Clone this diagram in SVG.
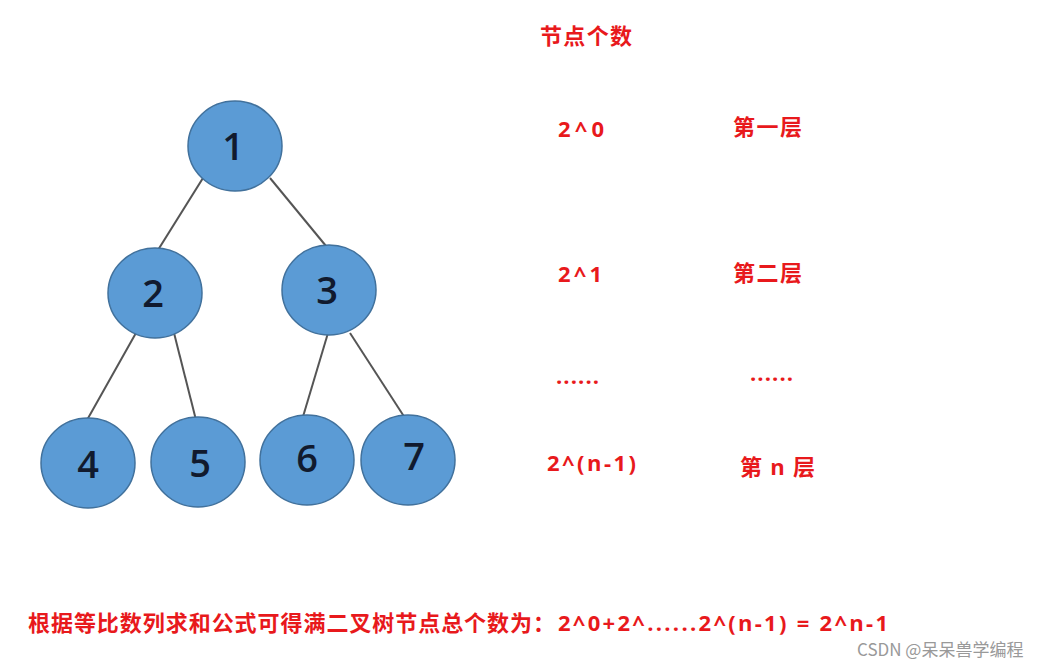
<svg xmlns="http://www.w3.org/2000/svg" width="1062" height="669" viewBox="0 0 1062 669">
<style>
.n{fill:#5b9bd5;stroke:#41719c;stroke-width:1.5}
.l{font-family:"Open Sans","Liberation Sans",sans-serif;font-size:38px;font-weight:600;fill:#111a2e;text-anchor:middle}
.r{font-family:"Open Sans","Noto Sans CJK SC",sans-serif;font-size:22px;font-weight:bold;fill:#e8191c}
.c{stroke:#555;stroke-width:2;fill:none}
</style>
<rect width="1062" height="669" fill="#fff"/>
<g id="connectors">
<line class="c" x1="203" y1="178" x2="158" y2="250"/>
<line class="c" x1="270" y1="178" x2="326" y2="246"/>
<line class="c" x1="136" y1="333" x2="87" y2="420"/>
<line class="c" x1="174" y1="333" x2="196" y2="420"/>
<line class="c" x1="328" y1="333" x2="302" y2="420"/>
<line class="c" x1="350" y1="333" x2="405" y2="418"/>
</g>
<g id="n1"><ellipse class="n" cx="235" cy="146" rx="47" ry="45"/><text class="l" x="233" y="160">1</text></g>
<g id="n2"><ellipse class="n" cx="155" cy="293" rx="47" ry="45"/><text class="l" x="153" y="307">2</text></g>
<g id="n3"><ellipse class="n" cx="329" cy="290" rx="47" ry="45"/><text class="l" x="327" y="304">3</text></g>
<g id="n4"><ellipse class="n" cx="88" cy="463" rx="47" ry="45"/><text class="l" x="88" y="478">4</text></g>
<g id="n5"><ellipse class="n" cx="198" cy="462" rx="47" ry="45"/><text class="l" x="200" y="477">5</text></g>
<g id="n6"><ellipse class="n" cx="307" cy="460" rx="47" ry="45"/><text class="l" x="307" y="472">6</text></g>
<g id="n7"><ellipse class="n" cx="408" cy="460" rx="47" ry="45"/><text class="l" x="414" y="470">7</text></g>
<g id="labels">
<text class="r" x="540" y="44" textLength="92">节点个数</text>
<text class="r" x="558" y="137" textLength="46">2^0</text>
<text class="r" x="733" y="135" textLength="69">第一层</text>
<text class="r" x="558" y="282" textLength="44">2^1</text>
<text class="r" x="733" y="281" textLength="69">第二层</text>
<text class="r" x="556" y="384" textLength="43">......</text>
<text class="r" x="750" y="381" textLength="43">......</text>
<text class="r" x="547" y="471" textLength="89">2^(n-1)</text>
<text class="r" x="740" y="475" textLength="75">第 n 层</text>
<text class="r" x="28" y="631" textLength="527">根据等比数列求和公式可得满二叉树节点总个数为：</text>
<text class="r" x="558" y="631" textLength="330">2^0+2^......2^(n-1) = 2^n-1</text>
<text x="857" y="656" style="font-family:'Noto Sans CJK SC',sans-serif;font-size:17px;fill:#999">CSDN @呆呆兽学编程</text>
</g>
</svg>
